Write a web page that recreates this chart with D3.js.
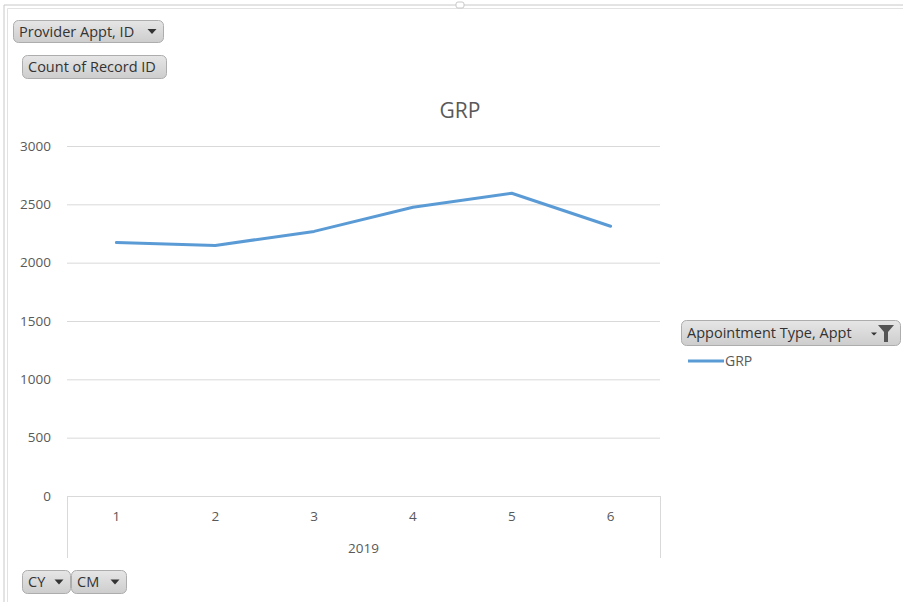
<!DOCTYPE html>
<html>
<head>
<meta charset="utf-8">
<script src="https://cdn.jsdelivr.net/npm/d3@7"></script>
<style>
    body { margin: 0; background: #fff; }
    #chart { width: 903px; height: 602px; }
    text { font-family: "Open Sans", "Noto Sans", sans-serif; }
</style>
</head>
<body>
<div id="chart"></div>
<script>
//Datos
let months = ['1', '2', '3', '4', '5', '6'];
let year = '2019';
let grpValues = [2172, 2148, 2268, 2475, 2595, 2312];
let yTicks = [0, 500, 1000, 1500, 2000, 2500, 3000];
let seriesName = 'GRP';

//Colores
let line_color = '#5b9bd5';
let grid_color = '#d9d9d9';
let text_color = '#595959';

let svg = d3.select('#chart')
    .append('svg')
    .attr('width', 903)
    .attr('height', 602);

//Marco exterior
svg.append('path')
    .attr('d', 'M4,602 V5 H903')
    .attr('fill', 'none').attr('stroke', '#c8c8c8').attr('stroke-width', 1);
svg.append('path')
    .attr('d', 'M7.5,602 V8.5 H903')
    .attr('fill', 'none').attr('stroke', '#e2e2e2').attr('stroke-width', 1);
svg.append('rect')
    .attr('x', 456).attr('y', 2).attr('width', 8).attr('height', 6).attr('rx', 2)
    .attr('fill', '#fff').attr('stroke', '#c8c8c8');

let margin = {top: 146, left: 67};
let width = 593, height = 350;

let chart = svg.append('g')
    .attr('transform', 'translate(' + margin.left + ',' + margin.top + ')');

//Escalas
let x = d3.scaleBand()
    .domain(months)
    .range([0, width]);

let y = d3.scaleLinear()
    .domain([0, 3000])
    .range([height, 0]);

//Rejilla
chart.append('g')
    .call(d3.axisLeft(y).tickValues(yTicks).tickSize(-width).tickFormat(''))
    .call(function(g){ g.select('.domain').remove(); })
    .call(function(g){ g.selectAll('.tick line').attr('stroke', grid_color); });

//Eje Y
chart.append('g')
    .call(d3.axisLeft(y).tickValues(yTicks).tickSize(0).tickPadding(16).tickFormat(d3.format('d')))
    .call(function(g){ g.select('.domain').remove(); })
    .call(function(g){
        g.selectAll('.tick text')
            .attr('fill', text_color)
            .style('font-size', '13.5px');
    });

//Eje X (categorías)
chart.append('g')
    .attr('transform', 'translate(0,' + height + ')')
    .call(d3.axisBottom(x).tickSize(0).tickPadding(15))
    .call(function(g){ g.select('.domain').attr('stroke', grid_color).attr('d', 'M0,0.5H' + width); })
    .call(function(g){
        g.selectAll('.tick text')
            .attr('fill', text_color)
            .style('font-size', '13.5px');
    });

//Separadores del grupo de año
chart.append('line')
    .attr('x1', 0.5).attr('x2', 0.5).attr('y1', height).attr('y2', height + 62)
    .attr('stroke', grid_color);
chart.append('line')
    .attr('x1', width + 0.5).attr('x2', width + 0.5).attr('y1', height).attr('y2', height + 62)
    .attr('stroke', grid_color);

chart.append('text')
    .attr('x', width / 2)
    .attr('y', height + 57)
    .attr('text-anchor', 'middle')
    .attr('fill', text_color)
    .style('font-size', '13.5px')
    .text(year);

//Línea
let line = d3.line()
    .x(function(d, i) { return x(months[i]) + x.bandwidth() / 2; })
    .y(function(d) { return y(d); });

chart.append('path')
    .datum(grpValues)
    .attr('d', line)
    .attr('fill', 'none')
    .attr('stroke', line_color)
    .attr('stroke-width', 3)
    .attr('stroke-linejoin', 'round')
    .attr('stroke-linecap', 'round');

//Título
svg.append('text')
    .attr('x', 460)
    .attr('y', 118)
    .attr('text-anchor', 'middle')
    .attr('fill', text_color)
    .style('font-size', '21px')
    .text(seriesName);

//Botones de campo
let defs = svg.append('defs');
let grad = defs.append('linearGradient')
    .attr('id', 'btnGrad')
    .attr('x1', 0).attr('y1', 0).attr('x2', 0).attr('y2', 1);
grad.append('stop').attr('offset', '0%').attr('stop-color', '#e6e6e6');
grad.append('stop').attr('offset', '100%').attr('stop-color', '#cdcdcd');

function fieldButton(x0, y0, w, h, label, arrow, funnel) {
    let g = svg.append('g').attr('transform', 'translate(' + x0 + ',' + y0 + ')');
    g.append('rect')
        .attr('x', 0.5).attr('y', 0.5)
        .attr('width', w).attr('height', h)
        .attr('rx', 5)
        .attr('fill', 'url(#btnGrad)')
        .attr('stroke', '#adadad');
    g.append('text')
        .attr('x', 6)
        .attr('y', h / 2 + 5.5)
        .attr('fill', '#333')
        .style('font-size', '14.5px')
        .text(label);
    if (arrow) {
        let ax = w - 11;
        g.append('path')
            .attr('d', 'M' + (ax - 4.5) + ',' + (h / 2 - 2) + 'L' + (ax + 4.5) + ',' + (h / 2 - 2) + 'L' + ax + ',' + (h / 2 + 3) + 'Z')
            .attr('fill', '#333');
    }
    if (funnel) {
        let fx = w - 14;
        g.append('path')
            .attr('d', 'M' + (fx - 8) + ',5 L' + (fx + 8) + ',5 L' + (fx + 2) + ',12 L' + (fx + 2) + ',' + (h - 3) + ' L' + (fx - 2) + ',' + (h - 3) + ' L' + (fx - 2) + ',12 Z')
            .attr('fill', '#555');
        g.append('path')
            .attr('d', 'M' + (fx - 15) + ',' + (h / 2) + 'L' + (fx - 9) + ',' + (h / 2) + 'L' + (fx - 12) + ',' + (h / 2 + 3) + 'Z')
            .attr('fill', '#333');
    }
}

fieldButton(13, 20, 150, 22, 'Provider Appt, ID', true, false);
fieldButton(22, 55, 144, 23, 'Count of Record ID', false, false);
fieldButton(681, 320, 219, 25, 'Appointment Type, Appt', false, true);
fieldButton(22, 570, 48, 23, 'CY', true, false);
fieldButton(71, 570, 55, 23, 'CM', true, false);

//Leyenda
svg.append('line')
    .attr('x1', 688).attr('x2', 724)
    .attr('y1', 361).attr('y2', 361)
    .attr('stroke', line_color)
    .attr('stroke-width', 3);
svg.append('text')
    .attr('x', 725)
    .attr('y', 366)
    .attr('fill', text_color)
    .style('font-size', '14px')
    .text(seriesName);
</script>
</body>
</html>
